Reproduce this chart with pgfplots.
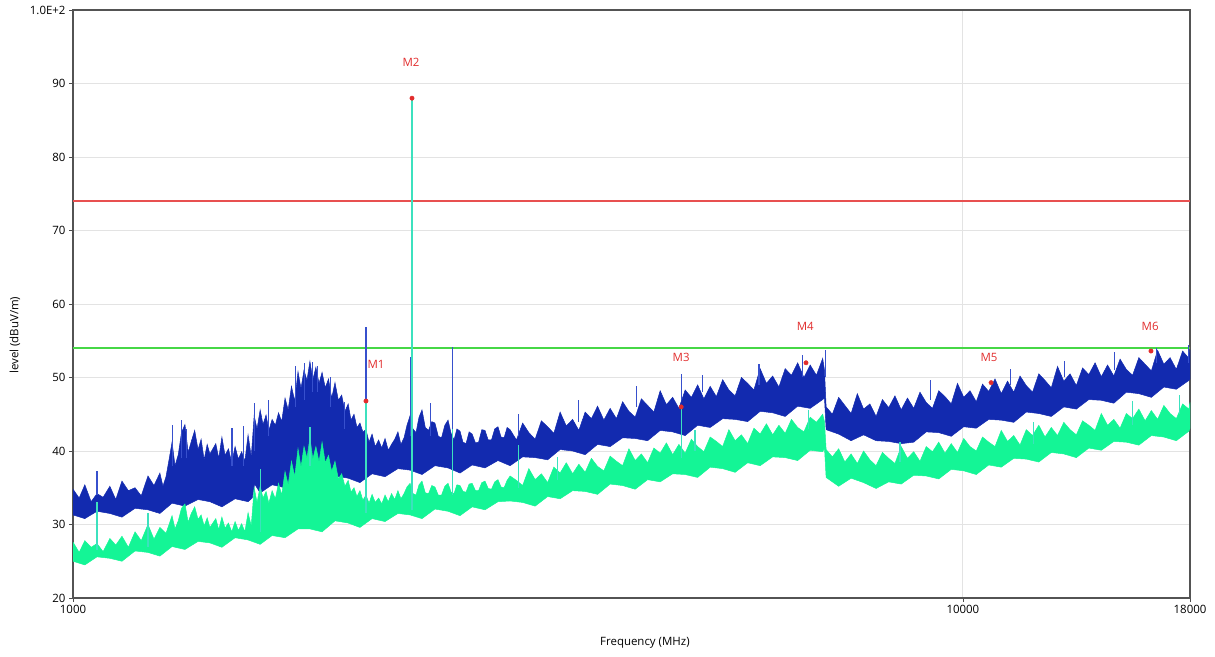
\documentclass[border=0pt]{standalone}
\usepackage{pgfplots}
\pgfplotsset{compat=1.18}
\usepackage{fontspec}
\setmainfont{Open Sans}

\definecolor{bluetrace}{RGB}{18,42,175}
\definecolor{bluespike}{RGB}{55,80,205}
\definecolor{greentrace}{RGB}{20,245,150}
\definecolor{tealspike}{RGB}{60,225,190}
\definecolor{limitred}{RGB}{232,80,80}
\definecolor{limitgreen}{RGB}{70,215,70}
\definecolor{markred}{RGB}{225,45,45}

\begin{document}
\begin{tikzpicture}[x=1bp,y=1bp]
\begin{axis}[
    name=ax,
    scale only axis,
    width=1117bp, height=588bp,
    xmode=log,
    xmin=1000, xmax=18000,
    ymin=20, ymax=100,
    xtick={1000,10000,18000},
    xticklabels={1000,10000,18000},
    minor xtick={},
    ytick={20,30,...,100},
    yticklabels={20,30,40,50,60,70,80,90,1.0E+2},
    tick align=outside, tick pos=left,
    major tick length=4bp,
    tick style={gray!60!black, line width=0.8bp},
    xmajorgrids, ymajorgrids,
    grid style={gray!22, line width=0.9bp},
    axis line style={gray!65!black, line width=1.3bp},
    font=\fontsize{11.5}{13}\selectfont,
    /pgf/number format/assume math mode=true,
    xlabel={Frequency (MHz)},
    ylabel={level (dBuV/m)},
    xlabel style={at={(axis description cs:0.512,-0.077)}, anchor=center},
    ylabel style={at={(axis description cs:-0.052,0.447)}, anchor=center},
    unbounded coords=jump,
]

% limit lines
\addplot[limitred, line width=1.2bp] coordinates {(1000,74) (18000,74)};
\addplot[limitgreen, line width=1.2bp] coordinates {(1000,54) (18000,54)};

% peak trace (blue): upper edge left to right, lower edge back
\addplot[draw=bluetrace, line width=0.5bp, fill=bluetrace] coordinates {
(1000,34.8) (1016,33.6) (1031,35.4) (1048,33.1) (1064,34.2) (1081,33.7)
(1100,35.2) (1117,33.4) (1135,35.9) (1154,34.6) (1174,35.0) (1193,33.9)
(1214,36.6) (1233,35.3) (1252,37.0) (1262,35.2) (1272,36.5) (1282,38.8)
(1292,41.2) (1302,38.0) (1313,39.5) (1324,42.5) (1336,43.6) (1347,39.8)
(1358,41.3) (1370,42.8) (1382,40.2) (1393,41.6) (1404,38.8) (1415,40.9)
(1425,39.6) (1447,41.0) (1458,39.0) (1470,41.9) (1482,39.4) (1495,40.3)
(1508,38.4) (1521,40.6) (1534,38.9) (1547,39.9) (1560,38.6) (1573,42.2)
(1586,39.2) (1598,44.8) (1610,43.0) (1623,45.6) (1635,43.6) (1648,44.9)
(1660,42.8) (1674,44.3) (1688,43.5) (1702,45.2) (1716,44.0) (1731,47.2)
(1745,45.6) (1760,48.8) (1775,46.8) (1790,50.8) (1804,48.5) (1818,51.0)
(1832,49.6) (1846,52.2) (1860,49.7) (1875,51.4) (1890,49.2) (1905,50.7)
(1921,48.6) (1937,49.8) (1953,47.2) (1970,49.3) (1987,46.9) (2004,47.6)
(2021,45.4) (2038,46.4) (2053,44.2) (2069,45.0) (2085,43.2) (2101,43.8)
(2117,42.6) (2134,42.9) (2151,41.2) (2168,42.3) (2186,40.6) (2205,41.5)
(2223,40.4) (2242,41.7) (2261,40.1) (2280,40.9) (2299,41.6) (2318,42.6)
(2336,40.9) (2355,41.8) (2373,43.5) (2392,44.8) (2410,43.0) (2429,42.5)
(2448,44.6) (2467,45.6) (2488,43.2) (2509,42.8) (2530,44.0) (2551,43.8)
(2573,42.0) (2595,41.8) (2617,43.5) (2639,44.2) (2660,42.4) (2680,41.5)
(2700,43.0) (2722,42.7) (2743,41.2) (2765,41.0) (2787,42.6) (2809,42.3)
(2833,41.1) (2856,41.2) (2880,42.9) (2904,42.8) (2928,41.5) (2953,41.5)
(2978,43.0) (3003,43.3) (3027,41.9) (3051,41.8) (3075,43.2)
(3099,42.9) (3150,41.5) (3201,43.8) (3253,42.5) (3306,41.6) (3360,44.1)
(3415,43.3) (3470,42.4) (3527,45.3) (3584,43.4) (3643,44.3) (3702,42.8)
(3763,45.3) (3824,44.4) (3886,46.1) (3950,44.2) (4014,45.8) (4080,44.4)
(4146,46.7) (4214,45.4) (4283,44.6) (4352,47.1) (4423,46.2) (4495,45.3)
(4569,48.2) (4643,46.3) (4719,47.3) (4796,45.8) (4874,48.3) (4953,47.3)
(5034,49.0) (5116,47.1) (5200,48.8) (5284,47.4) (5371,49.7) (5458,48.3)
(5547,47.5) (5638,50.0) (5730,49.2) (5823,48.3) (5918,51.2) (6015,49.2)
(6113,50.2) (6212,48.7) (6314,51.2) (6417,50.3) (6521,52.0) (6628,50.0)
(6736,51.7) (6846,50.3) (6958,52.6) (6990,51.0)
(7020,46.0) (7134,45.0) (7251,47.3) (7369,46.2) (7489,45.1) (7611,47.8)
(7735,45.7) (7862,46.4) (7990,44.7) (8120,47.0) (8253,45.9) (8388,47.5)
(8525,45.6) (8664,47.2) (8805,45.8) (8949,48.0) (9095,46.6) (9243,45.8)
(9394,48.2) (9547,47.4) (9703,46.4) (9861,49.2) (10022,47.3) (10186,48.2)
(10352,46.7) (10521,49.1) (10692,48.1) (10867,49.8) (11044,47.8) (11224,49.5)
(11407,48.0) (11593,50.2) (11782,48.9) (11975,48.0) (12170,50.5) (12368,49.6)
(12570,48.6) (12775,51.5) (12984,49.5) (13196,50.5) (13411,48.9) (13630,51.3)
(13852,50.4) (14078,52.0) (14308,50.1) (14541,51.7) (14778,50.2) (15019,52.5)
(15264,51.1) (15513,50.3) (15767,52.7) (16024,51.8) (16285,50.9) (16551,53.7)
(16821,51.8) (17095,52.7) (17374,51.1) (17658,53.6) (17946,52.6) (18000,53.8)
(18000,49.8) (17946,49.6) (17374,48.4) (16821,48.7) (16285,47.3) (15767,47.8)
(15264,48.0) (14778,46.5) (14308,46.9) (13852,47.0) (13411,45.7) (12984,46.0)
(12570,44.7) (12170,45.1) (11782,45.3) (11407,43.9) (11044,44.2) (10692,44.3)
(10352,43.1) (10022,43.3) (9703,42.0) (9394,42.5) (9095,42.6) (8805,41.2)
(8525,41.0) (8253,41.3) (7990,41.4) (7735,42.2) (7489,41.4) (7251,42.3)
(7020,42.9) (6990,47.2) (6958,47.0) (6736,45.8) (6521,46.1) (6314,44.7)
(6113,45.2) (5918,45.4) (5730,44.0) (5547,44.3) (5371,44.4) (5200,43.2)
(5034,43.5) (4874,42.1) (4719,42.6) (4569,42.8) (4423,41.4) (4283,41.7)
(4146,41.8) (4014,40.6) (3886,40.9) (3763,39.5) (3643,40.0) (3527,40.2)
(3415,38.8) (3306,39.1) (3201,39.2) (3099,38.0) (3003,38.7) (2904,37.7)
(2809,38.1) (2722,37.0) (2639,37.7) (2551,38.0) (2467,36.8) (2392,37.4)
(2318,37.6) (2242,36.5) (2168,36.9) (2101,35.7) (2038,36.3) (1970,36.6)
(1905,35.3) (1846,35.9) (1790,36.1) (1731,35.0) (1674,35.4) (1623,34.3)
(1600,35.5) (1590,33.6) (1573,33.1) (1521,33.5) (1470,32.4) (1425,33.1)
(1382,33.4) (1336,32.5) (1292,32.9) (1252,31.5) (1214,32.0) (1174,32.2)
(1135,31.0) (1100,31.5) (1064,31.8) (1031,30.8) (1000,31.3)
};

% peak trace spikes
\addplot[bluespike, line width=1.1bp] coordinates {
(1064,34) (1064,37.3) (1064,nan)
(1295,38) (1295,43.5) (1295,nan)
(1325,39) (1325,44.2) (1325,nan)
(1342,39) (1342,43.0) (1342,nan)
(1509,38) (1509,43.1) (1509,nan)
(1553,38) (1553,43.4) (1553,nan)
(1601,40) (1601,46.5) (1601,nan)
(1660,42) (1660,47.0) (1660,nan)
(1780,46) (1780,51.5) (1780,nan)
(1820,47) (1820,52.0) (1820,nan)
(1860,48) (1860,52.1) (1860,nan)
(1885,48) (1885,51.6) (1885,nan)
(1945,46) (1945,50.0) (1945,nan)
(2019,43) (2019,46.7) (2019,nan)
(2134,41) (2134,56.9) (2134,nan)
(2395,42) (2395,52.8) (2395,nan)
(2520,42) (2520,46.5) (2520,nan)
(2667,42) (2667,54.2) (2667,nan)
(3165,42) (3165,45.0) (3165,nan)
(3700,44) (3700,47.0) (3700,nan)
(4300,46) (4300,48.8) (4300,nan)
(4824,47) (4824,50.5) (4824,nan)
(5100,48) (5100,50.4) (5100,nan)
(5900,49) (5900,51.8) (5900,nan)
(6600,50) (6600,53.0) (6600,nan)
(7005,50) (7005,53.7) (7005,nan)
(9200,47) (9200,49.6) (9200,nan)
(11300,49) (11300,51.2) (11300,nan)
(13000,50) (13000,52.3) (13000,nan)
(14800,51) (14800,53.5) (14800,nan)
(16500,52) (16500,54.0) (16500,nan)
(17940,52) (17940,54.4)
};

% average trace (green): upper edge left to right, lower edge back
\addplot[draw=greentrace, line width=0.5bp, fill=greentrace] coordinates {
(1000,27.6) (1016,26.2) (1031,27.8) (1048,26.9) (1064,27.4) (1081,26.3)
(1100,28.1) (1117,27.2) (1135,28.4) (1154,26.9) (1174,29.0) (1193,27.8)
(1214,30.0) (1233,28.0) (1252,29.6) (1272,28.8) (1292,31.2) (1302,29.4)
(1313,30.5) (1324,32.2) (1336,32.8) (1347,30.3) (1358,31.5) (1370,32.4)
(1382,30.7) (1393,31.3) (1404,29.8) (1415,30.9) (1425,29.6) (1447,30.8)
(1458,29.3) (1470,31.0) (1482,29.5) (1495,30.2) (1508,29.0) (1521,30.4)
(1534,29.2) (1547,30.1) (1560,29.0) (1573,31.6) (1586,29.8) (1598,35.0)
(1610,33.0) (1623,35.2) (1635,33.6) (1648,34.5) (1660,32.9) (1674,34.6)
(1688,33.5) (1702,35.6) (1716,34.0) (1731,37.2) (1745,35.4) (1760,38.6)
(1775,36.5) (1790,40.3) (1804,37.8) (1818,40.6) (1832,39.0) (1846,41.8)
(1860,38.9) (1875,40.6) (1890,38.5) (1905,41.2) (1921,38.4) (1937,39.4)
(1953,37.2) (1970,38.6) (1987,36.2) (2004,36.9) (2021,35.2) (2038,36.0)
(2053,34.4) (2069,35.0) (2085,33.8) (2101,34.6) (2117,33.3) (2134,34.0)
(2151,32.9) (2168,34.1) (2186,33.0) (2205,33.6) (2223,32.8) (2242,34.0)
(2261,33.1) (2280,34.2) (2299,33.4) (2318,34.6) (2336,33.5) (2355,34.2)
(2373,35.1) (2392,35.6) (2410,34.2) (2429,34.0) (2448,35.4) (2467,35.9)
(2488,34.3) (2509,34.2) (2530,35.3) (2551,35.1) (2573,34.0) (2595,34.0)
(2617,35.2) (2639,35.6) (2660,34.4) (2680,34.2) (2700,35.4) (2722,35.3)
(2743,34.5) (2765,34.4) (2787,35.5) (2809,35.6) (2833,34.6) (2856,34.6)
(2880,35.7) (2904,35.9) (2928,34.9) (2953,34.8) (2978,35.8) (3003,36.1)
(3027,35.1) (3051,35.0) (3075,36.0)
(3099,36.6) (3150,36.0) (3201,35.3) (3253,37.6) (3306,36.1) (3360,36.9)
(3415,35.7) (3470,37.8) (3527,37.0) (3584,38.4) (3643,36.9) (3702,38.2)
(3763,37.1) (3824,39.0) (3886,37.9) (3950,37.3) (4014,39.3) (4080,38.6)
(4146,38.0) (4214,40.3) (4283,38.7) (4352,39.6) (4423,38.4) (4495,40.4)
(4569,39.7) (4643,41.1) (4719,39.5) (4796,40.9) (4874,39.7) (4953,41.6)
(5034,40.6) (5116,39.9) (5200,41.9) (5284,41.3) (5371,40.6) (5458,42.9)
(5547,41.4) (5638,42.2) (5730,41.0) (5823,43.1) (5918,42.3) (6015,43.7)
(6113,42.2) (6212,43.5) (6314,42.4) (6417,44.3) (6521,43.2) (6628,42.6)
(6736,44.6) (6846,43.9) (6958,45.0) (6990,44.0)
(7020,40.2) (7134,39.2) (7251,40.3) (7369,38.5) (7489,39.6) (7611,38.3)
(7735,40.0) (7862,38.8) (7990,38.0) (8120,39.8) (8253,39.0) (8388,38.3)
(8525,40.6) (8664,39.0) (8805,39.9) (8949,38.6) (9095,40.6) (9243,39.9)
(9394,41.2) (9547,39.7) (9703,41.0) (9861,39.8) (10022,41.7) (10186,40.6)
(10352,40.0) (10521,41.9) (10692,41.2) (10867,40.6) (11044,42.8) (11224,41.3)
(11407,42.1) (11593,40.8) (11782,42.9) (11975,42.1) (12170,43.5) (12368,41.9)
(12570,43.2) (12775,42.1) (12984,43.9) (13196,42.9) (13411,42.2) (13630,44.1)
(13852,43.5) (14078,42.8) (14308,45.1) (14541,43.5) (14778,44.3) (15019,43.1)
(15264,45.1) (15513,44.4) (15767,45.7) (16024,44.1) (16285,45.5) (16551,44.3)
(16821,46.2) (17095,45.1) (17374,44.4) (17658,46.4) (17946,45.7) (18000,46.6)
(18000,43.1) (17946,42.7) (17374,41.4) (16821,41.9) (16285,42.1) (15767,40.8)
(15264,41.2) (14778,41.3) (14308,40.1) (13852,40.4) (13411,39.1) (12984,39.6)
(12570,39.8) (12170,38.5) (11782,38.9) (11407,39.0) (11044,37.8) (10692,38.1)
(10352,36.8) (10022,37.3) (9703,37.5) (9394,36.2) (9095,36.6) (8805,36.7)
(8525,35.5) (8253,35.8) (7990,34.9) (7735,35.7) (7489,36.3) (7251,35.2)
(7020,36.4) (6990,40.4) (6958,39.9) (6736,40.1) (6521,38.7) (6314,39.1)
(6113,39.2) (5918,38.0) (5730,38.4) (5547,37.1) (5371,37.6) (5200,37.8)
(5034,36.4) (4874,36.8) (4719,36.9) (4569,35.8) (4423,36.1) (4283,34.8)
(4146,35.3) (4014,35.5) (3886,34.1) (3763,34.5) (3643,34.6) (3527,33.5)
(3415,33.8) (3306,32.5) (3201,33.0) (3099,33.2) (3003,33.1) (2904,32.0)
(2809,32.4) (2722,31.2) (2639,31.8) (2551,32.1) (2467,30.8) (2392,31.3)
(2318,31.5) (2242,30.4) (2168,30.8) (2101,29.6) (2038,30.2) (1970,30.5)
(1905,29.0) (1846,29.4) (1790,29.4) (1731,28.2) (1674,28.5) (1623,27.3)
(1573,27.9) (1521,28.2) (1470,26.9) (1425,27.5) (1382,27.7) (1336,26.6)
(1292,27.0) (1252,25.7) (1214,26.2) (1174,26.4) (1135,25.0) (1100,25.4)
(1064,25.6) (1031,24.5) (1000,25.0)
};

% average trace spikes
\addplot[tealspike, line width=1.2bp] coordinates {
(1064,26.5) (1064,33.0) (1064,nan)
(1214,27.0) (1214,31.5) (1214,nan)
(1623,29.0) (1623,37.5) (1623,nan)
(1846,38.0) (1846,43.3) (1846,nan)
(2134,31.5) (2134,46.8) (2134,nan)
(2404,32.0) (2404,88.0) (2404,nan)
(2667,34.0) (2667,43.0) (2667,nan)
(3165,35.0) (3165,40.8) (3165,nan)
(3500,36.0) (3500,39.2) (3500,nan)
(4824,39.0) (4824,46.2) (4824,nan)
(5000,40.0) (5000,42.8) (5000,nan)
(6700,43.0) (6700,45.6) (6700,nan)
(8500,38.5) (8500,41.2) (8500,nan)
(12000,41.0) (12000,44.0) (12000,nan)
(15500,43.5) (15500,46.8) (15500,nan)
(17500,45.0) (17500,47.6)
};

% markers
\addplot[only marks, mark=*, mark size=2.2bp, markred] coordinates {
(2134,46.8) (2404,88.0) (4824,46.0) (6664,52.0) (10757,49.3) (16270,53.6)
};

\node[markred] at (axis cs:2190,51.8) {M1};
\node[markred] at (axis cs:2398,92.9) {M2};
\node[markred] at (axis cs:4824,52.7) {M3};
\node[markred] at (axis cs:6650,56.9) {M4};
\node[markred] at (axis cs:10700,52.7) {M5};
\node[markred] at (axis cs:16233,57.0) {M6};

\end{axis}
\path ([xshift=-73bp,yshift=-59bp]ax.south west) rectangle ([xshift=25bp,yshift=10bp]ax.north east);
\end{tikzpicture}
\end{document}
